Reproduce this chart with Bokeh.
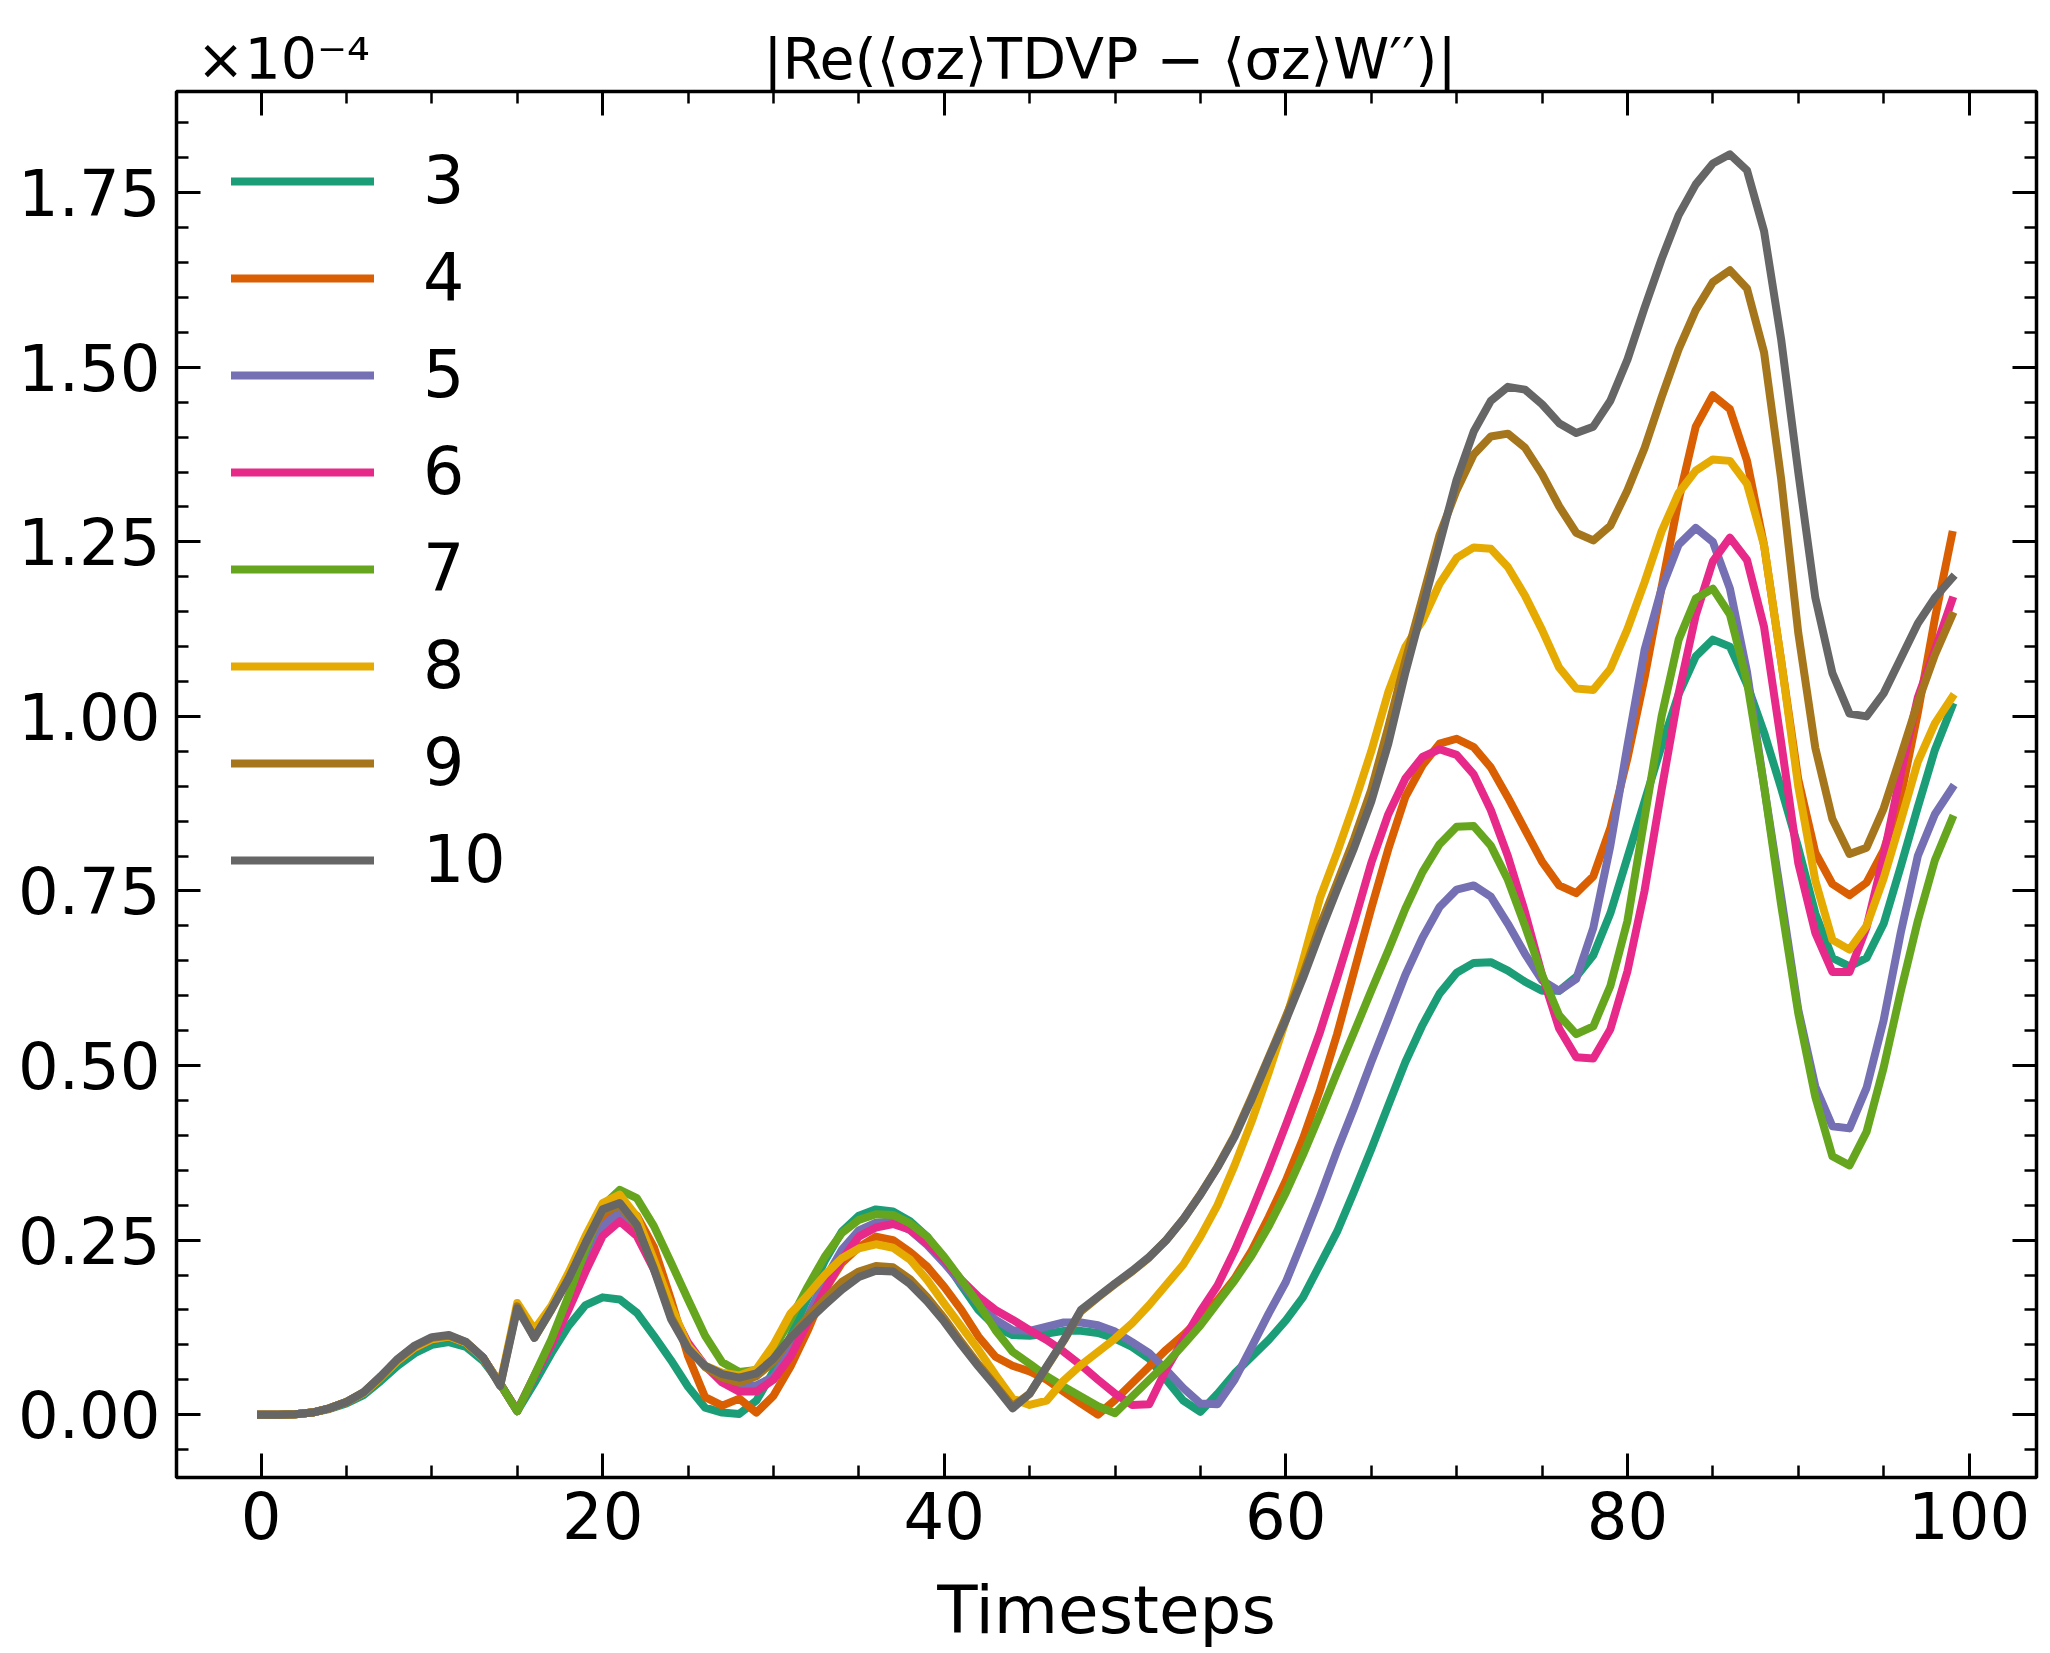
from bokeh.plotting import figure
from bokeh.models import Range1d, FixedTicker, LinearAxis, PrintfTickFormatter, CustomJSTickFormatter
from bokeh.embed import file_html
from bokeh.resources import INLINE

# ---------------- data (values in units of 1e-4) ----------------
timesteps = list(range(100))

bond_dims = ["3", "4", "5", "6", "7", "8", "9", "10"]
colors = ["#1b9e77", "#d95f02", "#7570b3", "#e7298a", "#66a61e", "#e6ab02", "#a6761d", "#666666"]

err_3 = [
    0, 0, 0.0005, 0.003, 0.008, 0.016, 0.028, 0.048, 0.07, 0.088, 0.1, 0.104, 0.097, 0.077, 0.045,
    0.005, 0.045, 0.088, 0.127, 0.157, 0.168, 0.165, 0.146, 0.113, 0.078, 0.04, 0.01, 0.003, 0.001, 0.02,
    0.062, 0.112, 0.167, 0.22, 0.262, 0.285, 0.294, 0.291, 0.277, 0.255, 0.222, 0.185, 0.15, 0.126, 0.114,
    0.113, 0.116, 0.12, 0.12, 0.117, 0.109, 0.097, 0.08, 0.05, 0.02, 0.004, 0.03, 0.059, 0.083, 0.107,
    0.135, 0.168, 0.215, 0.262, 0.32, 0.38, 0.443, 0.505, 0.558, 0.603, 0.633, 0.647, 0.648, 0.636, 0.62,
    0.607, 0.607, 0.627, 0.658, 0.718, 0.798, 0.878, 0.958, 1.032, 1.086, 1.11, 1.1, 1.046, 0.977, 0.897,
    0.812, 0.718, 0.654, 0.642, 0.654, 0.703, 0.785, 0.87, 0.952, 1.014]

err_4 = [
    0, 0, 0.0005, 0.003, 0.009, 0.018, 0.031, 0.053, 0.077, 0.096, 0.108, 0.112, 0.103, 0.081, 0.044,
    0.005, 0.055, 0.105, 0.16, 0.225, 0.28, 0.3, 0.285, 0.24, 0.165, 0.084, 0.025, 0.013, 0.023, 0.003,
    0.027, 0.069, 0.12, 0.178, 0.217, 0.24, 0.255, 0.25, 0.233, 0.212, 0.183, 0.15, 0.112, 0.083, 0.07,
    0.062, 0.05, 0.033, 0.016, 0.0, 0.021, 0.045, 0.069, 0.093, 0.114, 0.138, 0.164, 0.195, 0.235, 0.283,
    0.335, 0.395, 0.465, 0.545, 0.635, 0.725, 0.81, 0.885, 0.93, 0.961, 0.968, 0.956, 0.927, 0.884, 0.838,
    0.792, 0.758, 0.747, 0.771, 0.84, 0.94, 1.055, 1.185, 1.31, 1.415, 1.46, 1.44, 1.366, 1.245, 1.08,
    0.91, 0.805, 0.76, 0.744, 0.762, 0.808, 0.885, 1.005, 1.14, 1.26]

err_5 = [
    0, 0, 0.0005, 0.003, 0.009, 0.018, 0.031, 0.053, 0.077, 0.096, 0.108, 0.112, 0.103, 0.081, 0.044,
    0.005, 0.055, 0.1, 0.155, 0.215, 0.27, 0.29, 0.265, 0.21, 0.152, 0.1, 0.07, 0.05, 0.041, 0.042,
    0.054, 0.093, 0.14, 0.193, 0.236, 0.264, 0.275, 0.277, 0.264, 0.243, 0.217, 0.188, 0.159, 0.136, 0.121,
    0.12, 0.126, 0.132, 0.132, 0.128, 0.119, 0.104, 0.088, 0.064, 0.038, 0.016, 0.015, 0.05, 0.097, 0.145,
    0.19, 0.25, 0.312, 0.378, 0.44, 0.505, 0.567, 0.63, 0.683, 0.727, 0.752, 0.758, 0.742, 0.703, 0.66,
    0.622, 0.607, 0.624, 0.697, 0.815, 0.958, 1.095, 1.183, 1.246, 1.27, 1.25, 1.183, 1.064, 0.9, 0.742,
    0.58, 0.47, 0.413, 0.41, 0.468, 0.565, 0.69, 0.8, 0.86, 0.897]

err_6 = [
    0, 0, 0.0005, 0.003, 0.009, 0.018, 0.031, 0.053, 0.077, 0.096, 0.108, 0.112, 0.103, 0.081, 0.044,
    0.006, 0.055, 0.1, 0.15, 0.205, 0.256, 0.277, 0.256, 0.208, 0.151, 0.103, 0.07, 0.046, 0.033, 0.033,
    0.05, 0.083, 0.131, 0.178, 0.222, 0.255, 0.268, 0.273, 0.265, 0.245, 0.222, 0.193, 0.169, 0.15, 0.136,
    0.121, 0.107, 0.09, 0.071, 0.05, 0.03, 0.014, 0.015, 0.065, 0.107, 0.148, 0.185, 0.235, 0.292, 0.352,
    0.415, 0.48, 0.548, 0.625, 0.705, 0.79, 0.86, 0.911, 0.942, 0.953, 0.945, 0.917, 0.866, 0.8, 0.72,
    0.63, 0.553, 0.512, 0.51, 0.552, 0.635, 0.75, 0.895, 1.033, 1.145, 1.222, 1.256, 1.224, 1.128, 0.963,
    0.79, 0.69, 0.634, 0.634, 0.698, 0.8, 0.918, 1.027, 1.095, 1.166]

err_7 = [
    0, 0, 0.0005, 0.003, 0.009, 0.018, 0.031, 0.053, 0.077, 0.096, 0.108, 0.112, 0.103, 0.081, 0.044,
    0.005, 0.056, 0.108, 0.17, 0.237, 0.299, 0.322, 0.31, 0.27, 0.218, 0.165, 0.113, 0.075, 0.061, 0.064,
    0.093, 0.136, 0.183, 0.226, 0.26, 0.279, 0.287, 0.286, 0.274, 0.255, 0.226, 0.193, 0.159, 0.121, 0.09,
    0.073, 0.055, 0.04, 0.026, 0.012, 0.002, 0.026, 0.05, 0.073, 0.1, 0.128, 0.16, 0.192, 0.228, 0.27,
    0.318, 0.372, 0.43, 0.49, 0.548, 0.607, 0.665, 0.725, 0.777, 0.817, 0.842, 0.843, 0.815, 0.766, 0.7,
    0.63, 0.572, 0.545, 0.556, 0.614, 0.707, 0.854, 1.0, 1.11, 1.169, 1.183, 1.146, 1.05, 0.9, 0.73,
    0.575, 0.455, 0.37, 0.357, 0.405, 0.497, 0.606, 0.707, 0.794, 0.853]

err_8 = [
    0, 0, 0.0005, 0.003, 0.009, 0.018, 0.031, 0.053, 0.077, 0.096, 0.108, 0.112, 0.103, 0.081, 0.044,
    0.16, 0.122, 0.156, 0.203, 0.256, 0.303, 0.315, 0.284, 0.222, 0.156, 0.099, 0.07, 0.06, 0.056, 0.065,
    0.1, 0.145, 0.171, 0.2, 0.224, 0.238, 0.244, 0.239, 0.222, 0.193, 0.159, 0.126, 0.093, 0.057, 0.023,
    0.014, 0.02, 0.049, 0.071, 0.09, 0.109, 0.131, 0.157, 0.186, 0.215, 0.255, 0.3, 0.357, 0.42, 0.49,
    0.565, 0.65, 0.74, 0.805, 0.875, 0.95, 1.035, 1.1, 1.137, 1.19, 1.227, 1.242, 1.24, 1.214, 1.173,
    1.124, 1.07, 1.04, 1.038, 1.068, 1.125, 1.192, 1.265, 1.32, 1.352, 1.368, 1.366, 1.333, 1.245, 1.08,
    0.9, 0.765, 0.68, 0.666, 0.7, 0.768, 0.85, 0.935, 0.99, 1.027]

err_9 = [
    0, 0, 0.0005, 0.003, 0.009, 0.018, 0.032, 0.054, 0.079, 0.098, 0.11, 0.113, 0.104, 0.082, 0.042,
    0.155, 0.11, 0.15, 0.195, 0.245, 0.29, 0.3, 0.27, 0.21, 0.14, 0.095, 0.068, 0.053, 0.046, 0.055,
    0.076, 0.11, 0.14, 0.165, 0.19, 0.205, 0.213, 0.211, 0.194, 0.168, 0.138, 0.104, 0.072, 0.042, 0.012,
    0.03, 0.068, 0.106, 0.148, 0.168, 0.187, 0.205, 0.225, 0.25, 0.28, 0.316, 0.355, 0.4, 0.455, 0.512,
    0.57, 0.63, 0.7, 0.762, 0.825, 0.895, 0.985, 1.08, 1.17, 1.26, 1.324, 1.375, 1.401, 1.405, 1.385,
    1.347, 1.301, 1.263, 1.252, 1.273, 1.324, 1.384, 1.457, 1.526, 1.582, 1.622, 1.639, 1.613, 1.521, 1.34,
    1.12, 0.955, 0.853, 0.803, 0.812, 0.868, 0.943, 1.02, 1.088, 1.144]

err_10 = [
    0, 0, 0.0005, 0.003, 0.009, 0.018, 0.032, 0.055, 0.08, 0.099, 0.111, 0.114, 0.104, 0.082, 0.041,
    0.152, 0.11, 0.151, 0.194, 0.246, 0.294, 0.303, 0.272, 0.208, 0.137, 0.094, 0.07, 0.058, 0.053, 0.059,
    0.08, 0.11, 0.134, 0.157, 0.179, 0.197, 0.206, 0.205, 0.187, 0.162, 0.133, 0.1, 0.069, 0.04, 0.009,
    0.03, 0.069, 0.107, 0.15, 0.169, 0.188, 0.206, 0.226, 0.25, 0.28, 0.315, 0.354, 0.398, 0.452, 0.51,
    0.565, 0.625, 0.69, 0.752, 0.812, 0.878, 0.961, 1.063, 1.155, 1.247, 1.339, 1.408, 1.452, 1.472, 1.468,
    1.447, 1.42, 1.406, 1.415, 1.452, 1.511, 1.585, 1.655, 1.718, 1.762, 1.792, 1.805, 1.782, 1.695, 1.54,
    1.35, 1.17, 1.062, 1.004, 1.0, 1.033, 1.083, 1.133, 1.17, 1.198]

series = [err_3, err_4, err_5, err_6, err_7, err_8, err_9, err_10]

x_major_ticks = [0, 20, 40, 60, 80, 100]
x_minor_ticks = [5 * i for i in range(21)]
y_major_ticks = [0.0, 0.25, 0.5, 0.75, 1.0, 1.25, 1.5, 1.75]
y_minor_ticks = [round(-0.05 + 0.05 * i, 2) for i in range(39)]

title_text = "|Re(\u27e8\u03c3z\u27e9TDVP \u2212 \u27e8\u03c3z\u27e9W\u2032\u2032)|"
offset_text = "\u00d710\u207b\u2074"

FONT = "DejaVu Sans"

# ---------------- figure ----------------
W, H = 2042, 1653
BL, BR, BT, BB = 176, 6, 91, 176

p = figure(width=W, height=H, output_backend="svg", toolbar_location=None,
           x_range=Range1d(-4.95, 103.95), y_range=Range1d(-0.09, 1.895),
           min_border_left=BL, min_border_right=BR, min_border_top=BT, min_border_bottom=BB,
           title=None)
p.background_fill_color = "white"
p.border_fill_color = "white"
p.grid.visible = False
p.outline_line_color = "black"
p.outline_line_width = 3.5
p.outline_line_alpha = 1.0

for s, lab, c in zip(series, bond_dims, colors):
    p.line(timesteps, s, line_color=c, line_width=8, legend_label=lab,
           line_join="round", line_cap="square")

xt = FixedTicker(ticks=x_major_ticks, minor_ticks=x_minor_ticks)
yt = FixedTicker(ticks=y_major_ticks, minor_ticks=y_minor_ticks)

bottom_ax = p.below[0]
left_ax = p.left[0]

top_ax = LinearAxis(ticker=xt, formatter=CustomJSTickFormatter(code="return ''"))
right_ax = LinearAxis(ticker=yt, formatter=CustomJSTickFormatter(code="return ''"))
p.add_layout(top_ax, "above")
p.add_layout(right_ax, "right")

bottom_ax.ticker = xt
left_ax.ticker = yt
left_ax.formatter = PrintfTickFormatter(format="%.2f")

for ax in [bottom_ax, left_ax, top_ax, right_ax]:
    ax.axis_line_color = None
    ax.major_tick_in = 24
    ax.major_tick_out = 0
    ax.minor_tick_in = 12
    ax.minor_tick_out = 0
    ax.major_tick_line_width = 3
    ax.minor_tick_line_width = 2.5
    ax.major_tick_line_color = "black"
    ax.minor_tick_line_color = "black"
    ax.major_label_text_font = FONT
    ax.major_label_text_font_size = "64px"
    ax.major_label_text_color = "black"

for ax in [top_ax, right_ax]:
    ax.major_label_text_font_size = "0px"
    ax.major_label_standoff = 0

# header row: an outer top axis without tick marks whose two labels carry the
# offset text (above the left end) and the title (centred over the frame)
header_ax = LinearAxis(
    ticker=FixedTicker(ticks=[1.3, 49.7], minor_ticks=[]),
    formatter=CustomJSTickFormatter(args=dict(a=offset_text, b=title_text),
                                    code="return tick < 20 ? a : b"))
header_ax.axis_line_color = None
header_ax.major_tick_line_color = None
header_ax.minor_tick_line_color = None
header_ax.major_tick_in = 0
header_ax.major_tick_out = 0
header_ax.minor_tick_in = 0
header_ax.minor_tick_out = 0
header_ax.major_label_standoff = 0
header_ax.major_label_text_font = FONT
header_ax.major_label_text_font_size = "57px"
header_ax.major_label_text_color = "black"
p.add_layout(header_ax, "above")

bottom_ax.major_label_standoff = 14
left_ax.major_label_standoff = 16

bottom_ax.axis_label = "Timesteps"
bottom_ax.axis_label_text_font = FONT
bottom_ax.axis_label_text_font_size = "66px"
bottom_ax.axis_label_text_font_style = "normal"
bottom_ax.axis_label_text_color = "black"
bottom_ax.axis_label_standoff = 30

# ---------------- legend ----------------
lg = p.legend[0]
lg.location = (55, 580)
lg.margin = 0
lg.padding = 0
lg.border_line_color = None
lg.background_fill_alpha = 0
lg.label_text_font = FONT
lg.label_text_font_size = "65px"
lg.label_text_color = "black"
lg.glyph_width = 143
lg.glyph_height = 70
lg.label_height = 70
lg.label_standoff = 49
lg.spacing = 22

open("out.html", "w").write(file_html(p, INLINE))
